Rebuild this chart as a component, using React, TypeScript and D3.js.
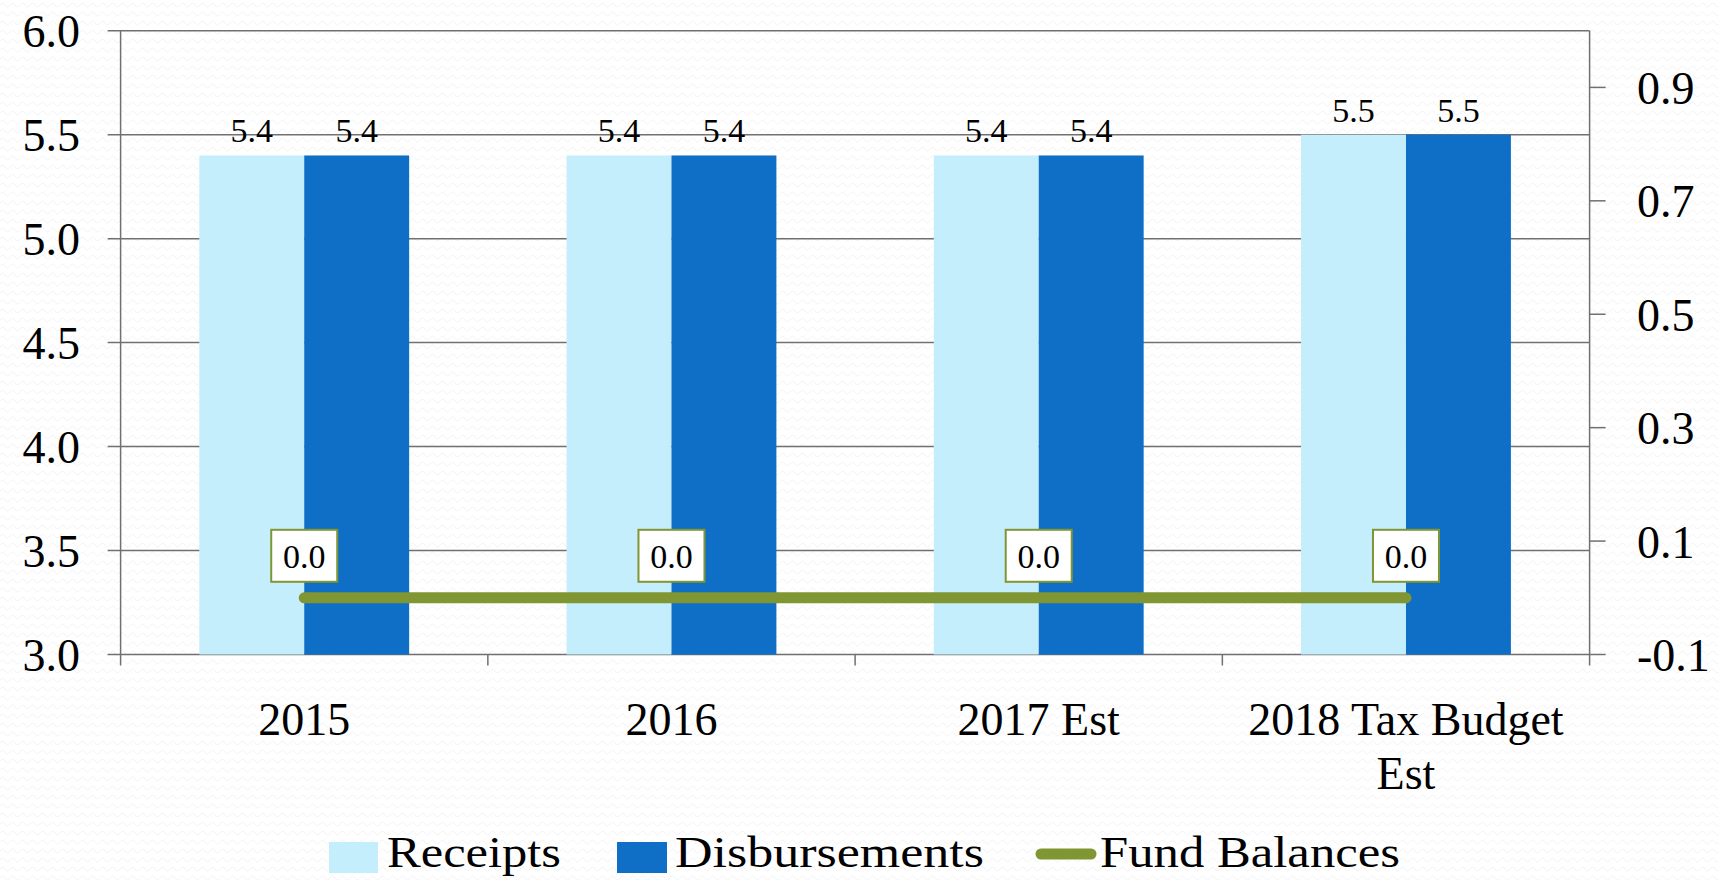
import React from "react";
import * as d3 from "d3";

const categories = ["2015", "2016", "2017 Est", "2018 Tax Budget Est"];
const receipts = [5.4, 5.4, 5.4, 5.5];
const disbursements = [5.4, 5.4, 5.4, 5.5];
const fundBalances = [0.0, 0.0, 0.0, 0.0];
const leftTicks = [3.0, 3.5, 4.0, 4.5, 5.0, 5.5, 6.0];
const rightTicks = [-0.1, 0.1, 0.3, 0.5, 0.7, 0.9];

const W = 1719;
const H = 880;
const M = { left: 120.6, right: 1589.6, top: 30.7, bottom: 654.5 };
const FONT = "'Liberation Serif', 'Times New Roman', serif";
const C_REC = "#C5EEFC";
const C_DIS = "#0F6FC6";
const C_LINE = "#7F9632";
const C_GRID = "#707070";

function wrap(label: string): string[] {
  const words = label.split(" ");
  if (label.length <= 15) return [label];
  const lines: string[] = [];
  let cur = "";
  for (const w of words) {
    const t = cur ? cur + " " + w : w;
    if (t.length > 15) {
      lines.push(cur);
      cur = w;
    } else cur = t;
  }
  if (cur) lines.push(cur);
  return lines;
}

export default function App() {
  const x = d3.scaleBand<string>().domain(categories).range([M.left, M.right]).paddingInner(0).paddingOuter(0);
  const band = x.bandwidth();
  const barW = band / 3.5;
  const yL = d3.scaleLinear().domain([3.0, 6.0]).range([M.bottom, M.top]);
  const yR = d3.scaleLinear().domain([-0.1, 1.0]).range([M.bottom, M.top]);
  const cx = (c: string) => (x(c) as number) + band / 2;

  const line = d3
    .line<number>()
    .x((_, i) => cx(categories[i]))
    .y((d) => yR(d));

  return (
    <svg
      width={W}
      height={H}
      style={{ position: "absolute", left: 0, top: 0, background: "#ffffff" }}
      fontFamily={FONT}
    >
      <defs>
        <pattern id="wave" width="10" height="9" patternUnits="userSpaceOnUse">
          <path d="M0 5 Q2.5 1 5 5 T10 5" fill="none" stroke="#f2f2f2" strokeWidth="1" />
        </pattern>
      </defs>
      <rect x={0} y={0} width={W} height={H} fill="url(#wave)" />

      {/* gridlines */}
      {leftTicks.map((t) => (
        <line key={"g" + t} x1={M.left - 13} x2={M.right} y1={yL(t)} y2={yL(t)} stroke={C_GRID} strokeWidth={1.5} />
      ))}
      {/* left axis labels */}
      {leftTicks.map((t) => (
        <text key={"l" + t} x={80} y={yL(t)} dy="0.36em" textAnchor="end" fontSize={46} fill="#000">
          {t.toFixed(1)}
        </text>
      ))}

      {/* bars */}
      {categories.map((c, i) => (
        <g key={"b" + c}>
          <rect x={cx(c) - barW} y={yL(receipts[i])} width={barW} height={yL(3.0) - yL(receipts[i])} fill={C_REC} />
          <rect x={cx(c)} y={yL(disbursements[i])} width={barW} height={yL(3.0) - yL(disbursements[i])} fill={C_DIS} />
          <text x={cx(c) - barW / 2} y={yL(receipts[i]) - 13} textAnchor="middle" fontSize={34} fill="#000">
            {receipts[i].toFixed(1)}
          </text>
          <text x={cx(c) + barW / 2} y={yL(disbursements[i]) - 13} textAnchor="middle" fontSize={34} fill="#000">
            {disbursements[i].toFixed(1)}
          </text>
        </g>
      ))}

      {/* axes lines */}
      <line x1={M.left} x2={M.left} y1={M.top} y2={M.bottom + 11} stroke={C_GRID} strokeWidth={1.5} />
      <line x1={M.right} x2={M.right} y1={M.top} y2={M.bottom + 11} stroke={C_GRID} strokeWidth={1.5} />
      {categories.slice(1).map((c) => (
        <line key={"ct" + c} x1={x(c)} x2={x(c)} y1={M.bottom} y2={M.bottom + 11} stroke={C_GRID} strokeWidth={1.5} />
      ))}

      {/* right axis */}
      {rightTicks.map((t) => (
        <g key={"r" + t}>
          <line x1={M.right} x2={M.right + 16} y1={yR(t)} y2={yR(t)} stroke={C_GRID} strokeWidth={1.5} />
          <text x={1637} y={yR(t)} dy="0.36em" textAnchor="start" fontSize={46} fill="#000">
            {t.toFixed(1)}
          </text>
        </g>
      ))}

      {/* line */}
      <path d={line(fundBalances) || ""} fill="none" stroke={C_LINE} strokeWidth={11} strokeLinecap="round" />
      {fundBalances.map((v, i) => {
        const px = cx(categories[i]);
        const py = yR(v);
        return (
          <g key={"fl" + i}>
            <rect x={px - 33} y={py - 68} width={66} height={52} fill="#fff" stroke={C_LINE} strokeWidth={2} />
            <text x={px} y={py - 42} dy="0.35em" textAnchor="middle" fontSize={34} fill="#000">
              {v.toFixed(1)}
            </text>
          </g>
        );
      })}

      {/* category labels */}
      {categories.map((c) => (
        <text key={"cl" + c} x={cx(c)} y={735} textAnchor="middle" fontSize={46} fill="#000">
          {wrap(c).map((ln, j) => (
            <tspan key={j} x={cx(c)} dy={j === 0 ? 0 : 54}>
              {ln}
            </tspan>
          ))}
        </text>
      ))}

      {/* legend */}
      <g fontSize={44} fill="#000">
        <rect x={329} y={842} width={49} height={31} fill={C_REC} />
        <text x={387} y={867} textLength={174} lengthAdjust="spacingAndGlyphs">Receipts</text>
        <rect x={617} y={842} width={50} height={31} fill={C_DIS} />
        <text x={675} y={867} textLength={309} lengthAdjust="spacingAndGlyphs">Disbursements</text>
        <line x1={1041} x2={1091} y1={854} y2={854} stroke={C_LINE} strokeWidth={11} strokeLinecap="round" />
        <text x={1100} y={867} textLength={300} lengthAdjust="spacingAndGlyphs">Fund Balances</text>
      </g>
    </svg>
  );
}
